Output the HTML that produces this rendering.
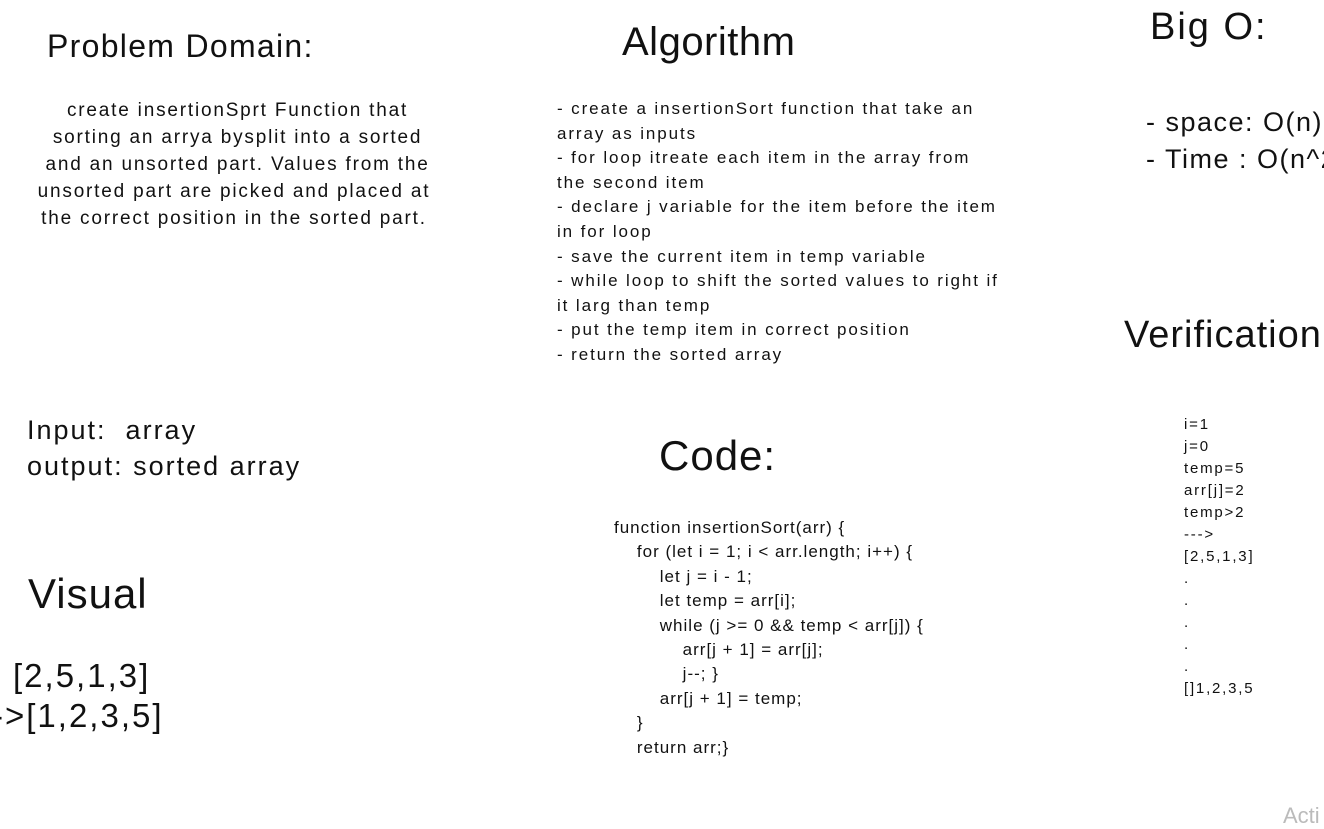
<!DOCTYPE html>
<html><head><meta charset="utf-8"><style>
body{margin:0;width:1324px;height:829px;background:#fff;overflow:hidden;position:relative;font-family:"Liberation Sans",sans-serif;color:#111}
div{position:absolute;white-space:pre}
.h{font-size:34px}
.b{font-size:19px;line-height:27px;letter-spacing:1.8px}
.a{font-size:17px;line-height:24.6px;letter-spacing:1.9px}
.c{font-size:17px;line-height:24.4px;letter-spacing:1px}
.v{font-size:15px;line-height:22px;letter-spacing:1.8px}
</style></head><body>
<div class="h" style="left:47px;top:28px;font-size:32px;letter-spacing:1.3px">Problem Domain:</div>
<div class="b" style="left:34px;top:97px;text-align:center;width:400px"> create insertionSprt Function that
 sorting an arrya bysplit into a sorted
 and an unsorted part. Values from the
unsorted part are picked and placed at
the correct position in the sorted part.</div>
<div class="h" style="left:622px;top:20px;font-size:40px;letter-spacing:0.5px">Algorithm</div>
<div class="a" style="left:557px;top:97px">- create a insertionSort function that take an
array as inputs
- for loop itreate each item in the array from
the second item
- declare j variable for the item before the item
in for loop
- save the current item in temp variable
- while loop to shift the sorted values to right if
it larg than temp
- put the temp item in correct position
- return the sorted array</div>
<div class="h" style="left:1150px;top:6px;font-size:38px;letter-spacing:2px">Big O:</div>
<div style="left:1146px;top:104px;font-size:27px;line-height:37px;letter-spacing:1.5px">- space: O(n)
- Time : O(n^2)</div>
<div class="h" style="left:1124px;top:314px;font-size:38px;letter-spacing:1px">Verification</div>
<div class="v" style="left:1184px;top:414px">i=1
j=0
temp=5
arr[j]=2
temp&gt;2
---&gt;
[2,5,1,3]
.
.
.
.
.
[]1,2,3,5</div>
<div style="left:27px;top:412px;font-size:27px;line-height:36px;letter-spacing:2px">Input:  array
output: sorted array</div>
<div class="h" style="left:659px;top:432px;font-size:42px;letter-spacing:1px">Code:</div>
<div class="c" style="left:614px;top:516px">function insertionSort(arr) {
    for (let i = 1; i &lt; arr.length; i++) {
        let j = i - 1;
        let temp = arr[i];
        while (j &gt;= 0 &amp;&amp; temp &lt; arr[j]) {
            arr[j + 1] = arr[j];
            j--; }
        arr[j + 1] = temp;
    }
    return arr;}</div>
<div class="h" style="left:28px;top:570px;font-size:42px;letter-spacing:1px">Visual</div>
<div style="left:13px;top:656px;font-size:33px;line-height:40px;letter-spacing:2px">[2,5,1,3]</div>
<div style="left:-8px;top:696px;font-size:33px;line-height:40px;letter-spacing:2px">-&gt;[1,2,3,5]</div>
<div style="left:1283px;top:803px;font-size:22px;color:#bbb">Acti</div>
</body></html>
